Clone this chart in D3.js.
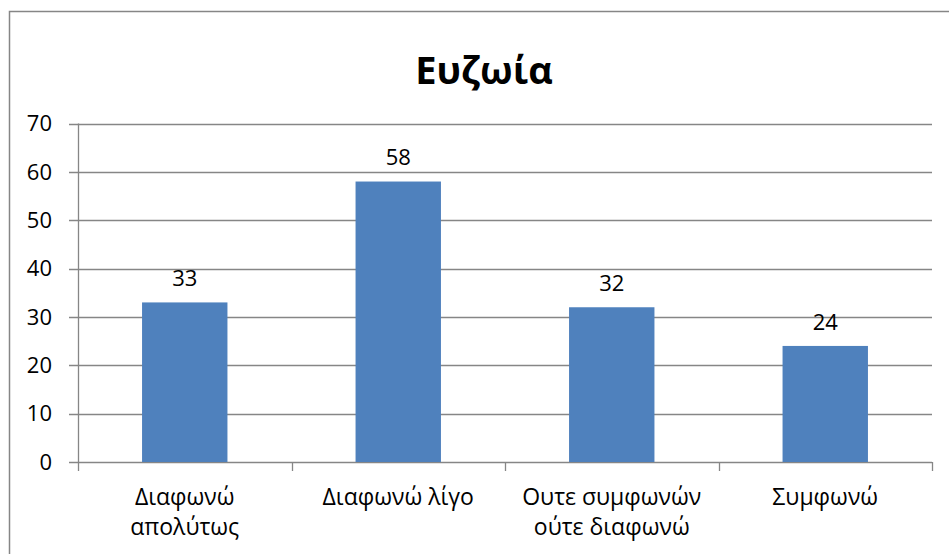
<!DOCTYPE html>
<html>
<head>
<meta charset="utf-8">
<script src="https://cdn.jsdelivr.net/npm/d3@7"></script>
<style>
  body { margin: 0; background: #fff; }
  svg { display: block; font-family: "Open Sans", "Liberation Sans", sans-serif; }
</style>
</head>
<body>
<div id="chart"></div>
<script>
var categories = [["Διαφωνώ", "απολύτως"], ["Διαφωνώ λίγο"], ["Ουτε συμφωνών", "ούτε διαφωνώ"], ["Συμφωνώ"]];
var values = [33, 58, 32, 24];
var yTicks = [0, 10, 20, 30, 40, 50, 60, 70];
var title = "Ευζωία";

var width = 949, height = 554;
var plotLeft = 78, plotRight = 932, plotTop = 123.5, plotBottom = 462;

var svg = d3.select("#chart").append("svg")
    .attr("width", width)
    .attr("height", height);

// chart frame
svg.append("rect")
    .attr("x", 9.5).attr("y", 11.5)
    .attr("width", 960).attr("height", 560)
    .attr("fill", "none")
    .attr("stroke", "#868686")
    .attr("stroke-width", 1.5);

svg.append("text")
    .attr("x", 484).attr("y", 84)
    .attr("text-anchor", "middle")
    .style("font-size", "38px")
    .style("font-weight", "bold")
    .text(title);

var x = d3.scaleBand()
    .domain(d3.range(categories.length))
    .range([plotLeft, plotRight]);

var y = d3.scaleLinear()
    .domain([0, 70])
    .range([plotBottom, plotTop]);

// gridlines
svg.append("g").selectAll("line")
    .data(yTicks)
    .enter().append("line")
    .attr("x1", plotLeft - 9).attr("x2", plotRight)
    .attr("y1", function(d) { return Math.round(y(d)) + 0.5; })
    .attr("y2", function(d) { return Math.round(y(d)) + 0.5; })
    .attr("stroke", "#868686")
    .attr("stroke-width", 1.3);

// y axis line
svg.append("line")
    .attr("x1", plotLeft + 0.5).attr("x2", plotLeft + 0.5)
    .attr("y1", plotTop).attr("y2", plotBottom)
    .attr("stroke", "#868686")
    .attr("stroke-width", 1.3);

svg.append("g").selectAll("text")
    .data(yTicks)
    .enter().append("text")
    .attr("x", 52)
    .attr("y", function(d) { return y(d); })
    .attr("dy", "0.35em")
    .attr("text-anchor", "end")
    .style("font-size", "22px")
    .text(function(d) { return d; });

// category tick marks
svg.append("g").selectAll("line")
    .data(d3.range(categories.length + 1))
    .enter().append("line")
    .attr("x1", function(d) { return Math.round(plotLeft + d * x.bandwidth()) + 0.5; })
    .attr("x2", function(d) { return Math.round(plotLeft + d * x.bandwidth()) + 0.5; })
    .attr("y1", plotBottom).attr("y2", plotBottom + 9)
    .attr("stroke", "#868686")
    .attr("stroke-width", 1.3);

var barW = x.bandwidth() * 0.4;

svg.append("g").selectAll("rect")
    .data(values)
    .enter().append("rect")
    .attr("x", function(d, i) { return x(i) + (x.bandwidth() - barW) / 2; })
    .attr("y", function(d) { return y(d); })
    .attr("width", barW)
    .attr("height", function(d) { return y(0) - y(d); })
    .attr("fill", "#4F81BD");

svg.append("g").selectAll("text")
    .data(values)
    .enter().append("text")
    .attr("x", function(d, i) { return x(i) + x.bandwidth() / 2; })
    .attr("y", function(d) { return y(d) - 24; })
    .attr("dy", "0.35em")
    .attr("text-anchor", "middle")
    .style("font-size", "22px")
    .text(function(d) { return d; });

var labels = svg.append("g").selectAll("text")
    .data(categories)
    .enter().append("text")
    .attr("text-anchor", "middle")
    .style("font-size", "23px");

labels.selectAll("tspan")
    .data(function(d, i) { return d.map(function(t) { return { t: t, i: i }; }); })
    .enter().append("tspan")
    .attr("x", function(d) { return x(d.i) + x.bandwidth() / 2; })
    .attr("y", function(d, j) { return 497 + j * 30; })
    .attr("dy", "0.35em")
    .text(function(d) { return d.t; });
</script>
</body>
</html>
